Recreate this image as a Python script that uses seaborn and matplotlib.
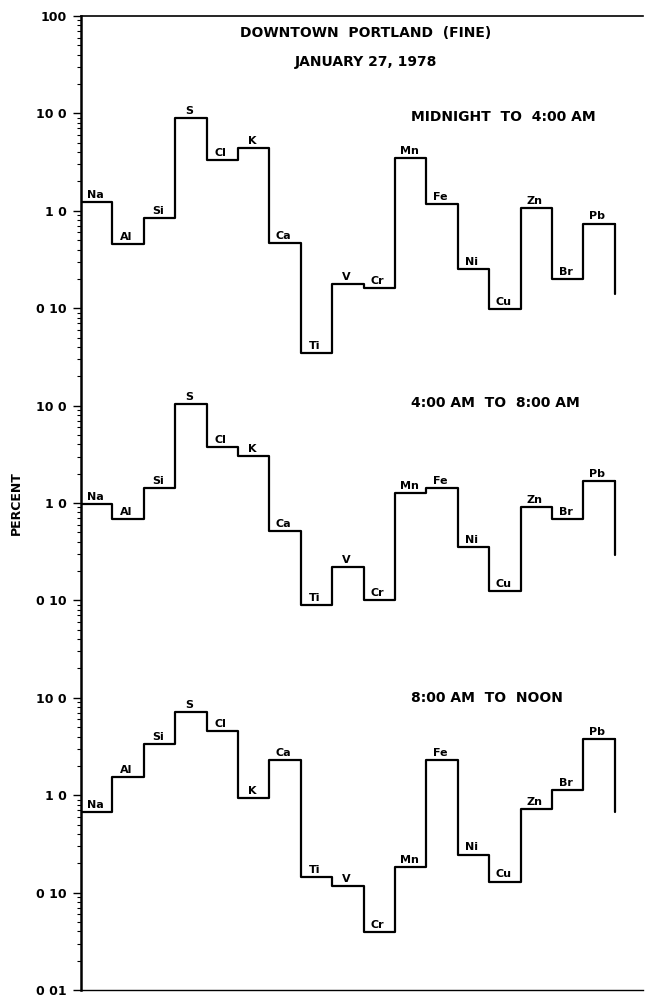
import numpy as np
import pandas as pd
import matplotlib
matplotlib.use("Agg")
import matplotlib.pyplot as plt
import seaborn as sns
from matplotlib.ticker import LogLocator, FixedLocator, FixedFormatter, NullFormatter

# ---------------- data ----------------
elements = ["Na", "Al", "Si", "S", "Cl", "K", "Ca", "Ti", "V", "Cr",
            "Mn", "Fe", "Ni", "Cu", "Zn", "Br", "Pb"]

midnight_4am = [1.24, 0.46, 0.85, 8.9, 3.3, 4.4, 0.47, 0.035, 0.176, 0.16,
                3.47, 1.18, 0.25, 0.098, 1.07, 0.20, 0.74]
am4_am8 = [0.97, 0.69, 1.43, 10.4, 3.75, 3.04, 0.51, 0.09, 0.22, 0.10,
           1.27, 1.43, 0.35, 0.125, 0.91, 0.69, 1.68]
am8_noon = [0.67, 1.53, 3.36, 7.2, 4.55, 0.93, 2.3, 0.143, 0.118, 0.039,
            0.185, 2.3, 0.246, 0.13, 0.72, 1.13, 3.78]
# value where the closing vertical line after Pb stops
tail_values = [0.14, 0.29, 0.67]

panel_titles = ["MIDNIGHT  TO  4:00 AM", "4:00 AM  TO  8:00 AM", "8:00 AM  TO  NOON"]
tick_labels = ["0 01", "0 10", "1 0", "10 0", "0 10", "1 0", "10 0",
               "0 10", "1 0", "10 0", "100"]
title_line1 = "DOWNTOWN  PORTLAND  (FINE)"
title_line2 = "JANUARY 27, 1978"
y_label = "PERCENT"

# ---------------- figure ----------------
sns.set_style("ticks")
plt.rcParams["font.family"] = ["DejaVu Sans"]
plt.rcParams["text.color"] = "black"
plt.rcParams["axes.labelcolor"] = "black"
plt.rcParams["ytick.color"] = "black"
plt.rcParams["xtick.color"] = "black"

W, H = 645, 999
fig = plt.figure(figsize=(W / 100, H / 100), dpi=100)
ax = fig.add_axes([81 / W, 1 - 990 / H, (643 - 81) / W, (990 - 16) / H])
ax.set_yscale("log")

series = [midnight_4am, am4_am8, am8_noon]
offsets = [1e6, 1e3, 1.0]   # each panel is stacked 3 decades above the next

n = len(elements)
edges = np.arange(n + 1)
for vals, off, tail in zip(series, offsets, tail_values):
    v = np.array(vals) * off
    df = pd.DataFrame({"x": edges, "y": np.append(v, v[-1])})
    sns.lineplot(data=df, x="x", y="y", ax=ax, color="black", lw=1.6,
                 drawstyle="steps-post", estimator=None, sort=False)
    tail_df = pd.DataFrame({"x": [n, n], "y": [v[-1], tail * off]})
    sns.lineplot(data=tail_df, x="x", y="y", ax=ax, color="black", lw=1.6,
                 estimator=None, sort=False)
    for i, (el, val) in enumerate(zip(elements, v)):
        ax.text(i + 0.45, val * 1.05, el, ha="center", va="bottom",
                fontsize=8, fontweight="bold", color="black")

ax.set_xlim(0, 17.9)
ax.set_ylim(0.01, 1e8)

# y ticks
major = [10.0 ** k for k in range(-2, 9)]
ax.yaxis.set_major_locator(FixedLocator(major))
ax.yaxis.set_major_formatter(FixedFormatter(tick_labels))
ax.yaxis.set_minor_locator(LogLocator(base=10, subs=np.arange(2, 10), numticks=30))
ax.yaxis.set_minor_formatter(NullFormatter())
ax.tick_params(axis="y", which="major", direction="out", length=6, width=1,
               labelsize=9, pad=4)
ax.tick_params(axis="y", which="minor", direction="out", length=3, width=0.8)
for lbl in ax.get_yticklabels():
    lbl.set_fontweight("bold")
ax.set_xticks([])
ax.set_xlabel("")
ax.set_ylabel(y_label, fontsize=9, fontweight="bold", labelpad=10)

for s in ["left", "top", "bottom"]:
    ax.spines[s].set_visible(True)
    ax.spines[s].set_color("black")
ax.spines["left"].set_linewidth(1.8)
ax.spines["top"].set_linewidth(1.2)
ax.spines["bottom"].set_linewidth(1.0)
ax.spines["right"].set_visible(False)

# titles
fig.text(366 / W, 1 - 33 / H, title_line1, ha="center", va="center",
         fontsize=10, fontweight="bold")
fig.text(366 / W, 1 - 62 / H, title_line2, ha="center", va="center",
         fontsize=10, fontweight="bold")
for ttl, yp in zip(panel_titles, [117, 403, 698]):
    fig.text(411 / W, 1 - yp / H, ttl, ha="left", va="center",
             fontsize=10, fontweight="bold")

fig.savefig("out.png", dpi=100, facecolor="white")
